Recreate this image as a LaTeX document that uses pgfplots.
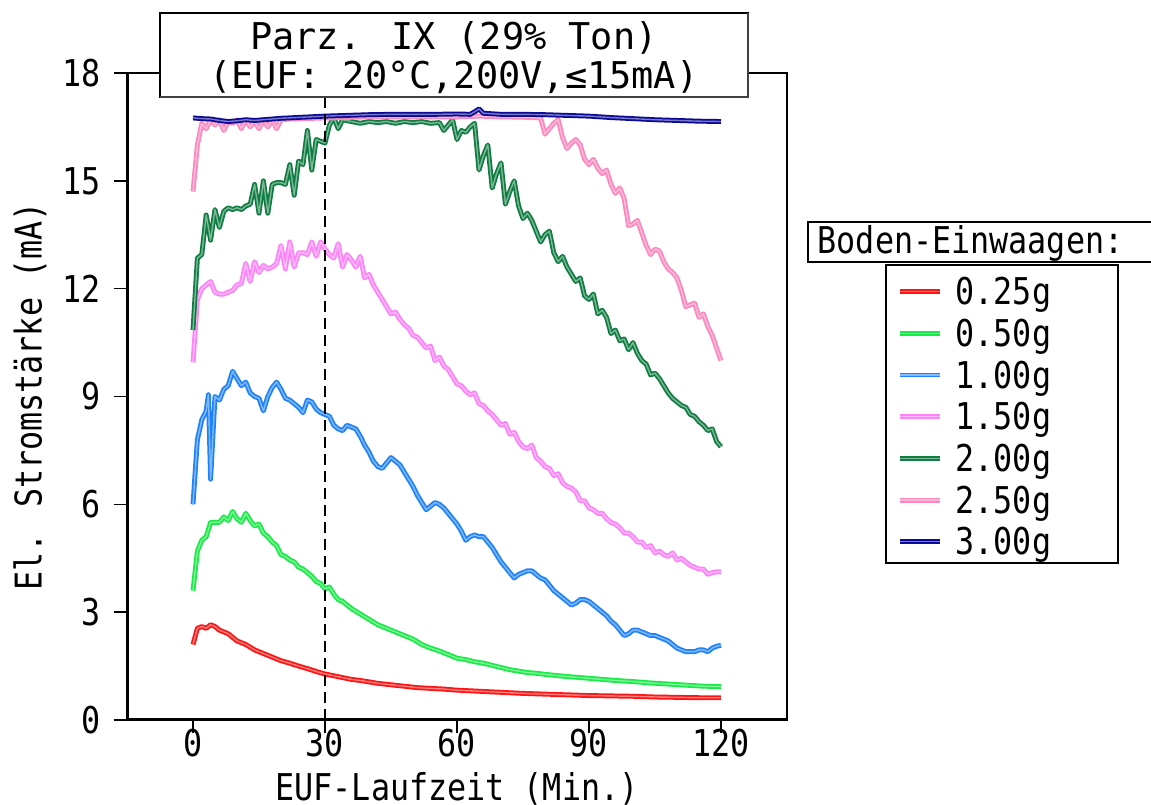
\documentclass[border=0pt]{standalone}
\usepackage{pgfplots}
\pgfplotsset{compat=1.18}
\usepackage{fontspec}
\setmainfont{DejaVu Sans Mono}[FakeStretch=0.86]
\newfontfamily\titlefont{DejaVu Sans Mono}
\definecolor{c1}{RGB}{255,20,20}
\definecolor{c2}{RGB}{25,235,70}
\definecolor{c3}{RGB}{30,130,255}
\definecolor{c4}{RGB}{255,130,250}
\definecolor{c5}{RGB}{15,125,65}
\definecolor{c6}{RGB}{255,135,190}
\definecolor{c7}{RGB}{10,10,150}
\newcommand{\fs}{\fontsize{10.5pt}{13pt}\selectfont}
\begin{document}
\fs
\begin{tikzpicture}
\path[use as bounding box] (0,0) rectangle (115.1mm,80.5mm);
\begin{axis}[
  at={(12.7mm,8.5mm)}, anchor=south west,
  scale only axis, width=66mm, height=64.7mm,
  xmin=-15, xmax=135, ymin=0, ymax=18,
  xtick={0,30,...,120}, ytick={0,3,...,18},
  tick pos=left, tick align=outside, major tick length=1.3mm,
  tick style={black, line width=0.4pt},
  axis line style={line width=0.45pt},
  /pgf/number format/assume math mode=true,
  tick label style={font=\fs},
  xticklabel style={yshift=1.7mm},
  xlabel={EUF-Laufzeit (Min.)},
  ylabel={El. Stromstärke (mA)},
  label style={font=\fs},
  xlabel style={at={(axis description cs:0.5,-0.106)}, anchor=center},
  ylabel style={at={(axis description cs:-0.147,0.5)}, anchor=center},
  every axis plot/.append style={line width=0.5pt, double distance=0.4pt, line join=round},
  legend style={at={(1.1667,0.6816)}, anchor=north west, draw=none, fill=none,
    inner sep=0pt, column sep=1.3mm, row sep=0pt, font=\fs,
    nodes={inner sep=0pt, text height=2.5mm, text depth=1.67mm}},
  legend cell align=left,
  legend image code/.code={\draw[#1] (0mm,0.9mm) -- (4mm,0.9mm);},
]
\addplot[draw=c1, double=c1!55!white] coordinates {(0,2.1)(1,2.55)(2,2.6)(3,2.55)(4,2.65)(5,2.6)(6,2.5)(7,2.45)(8,2.4)(9,2.3)(10,2.2)(12,2.1)(14,1.95)(16,1.85)(18,1.75)(20,1.65)(22,1.58)(24,1.5)(26,1.43)(28,1.35)(30,1.28)(32,1.23)(34,1.18)(36,1.13)(38,1.1)(40,1.06)(42,1.02)(45,0.98)(48,0.94)(51,0.9)(54,0.88)(57,0.86)(60,0.83)(65,0.8)(70,0.77)(75,0.74)(80,0.72)(85,0.7)(90,0.68)(95,0.67)(100,0.66)(105,0.64)(110,0.63)(115,0.62)(120,0.62)};
\addlegendentry{0.25g}
\addplot[draw=c2, double=c2!55!white] coordinates {(0,3.6)(1,4.7)(2,5.0)(3,5.1)(4,5.5)(5,5.5)(6,5.5)(7,5.65)(8,5.55)(9,5.8)(10,5.6)(11,5.5)(12,5.75)(13,5.55)(14,5.4)(15,5.45)(16,5.2)(17,5.1)(18,4.95)(19,4.85)(20,4.6)(21,4.55)(22,4.45)(23,4.4)(24,4.25)(25,4.2)(26,4.1)(27,4.0)(28,3.85)(29,3.8)(30,3.65)(31,3.7)(32,3.5)(33,3.35)(34,3.3)(35,3.2)(36,3.1)(38,2.95)(40,2.8)(42,2.65)(44,2.55)(46,2.45)(48,2.35)(50,2.25)(52,2.1)(54,2.0)(56,1.92)(58,1.82)(60,1.72)(62,1.68)(64,1.62)(66,1.58)(68,1.52)(70,1.46)(72,1.4)(74,1.36)(76,1.32)(78,1.3)(80,1.27)(84,1.22)(88,1.18)(92,1.14)(96,1.1)(100,1.07)(104,1.03)(108,1.0)(112,0.97)(116,0.94)(120,0.93)};
\addlegendentry{0.50g}
\addplot[draw=c3, double=c3!55!white] coordinates {(0,6.0)(1,7.8)(2,8.35)(3,8.6)(3.5,9.05)(4,6.7)(5,9.0)(6,8.9)(7,9.2)(8,9.3)(9,9.7)(10,9.5)(11,9.3)(12,9.4)(13,9.1)(14,9.0)(15,8.95)(16,8.6)(17,9.0)(18,9.25)(19,9.4)(20,9.2)(21,8.95)(22,8.9)(23,8.8)(24,8.7)(25,8.55)(26,8.9)(27,8.85)(28,8.65)(29,8.55)(30,8.5)(31,8.45)(32,8.2)(33,8.1)(34,8.05)(35,8.2)(36,8.15)(37,8.1)(38,7.9)(39,7.65)(40,7.45)(41,7.2)(42,7.05)(43,7.0)(44,7.15)(45,7.3)(46,7.2)(47,7.1)(48,6.9)(49,6.7)(50,6.5)(51,6.25)(52,6.05)(53,5.85)(54,5.95)(55,6.05)(56,6.0)(57,5.9)(58,5.75)(59,5.6)(60,5.45)(61,5.25)(62,5.0)(63,5.1)(64,5.15)(65,5.1)(66,5.1)(67,4.95)(68,4.8)(69,4.6)(70,4.4)(71,4.25)(72,4.1)(73,3.95)(74,4.05)(75,4.1)(76,4.15)(77,4.15)(78,4.05)(79,3.95)(80,3.9)(81,3.75)(82,3.6)(83,3.5)(84,3.4)(85,3.3)(86,3.2)(87,3.25)(88,3.35)(89,3.35)(90,3.3)(91,3.2)(92,3.1)(93,3.0)(94,2.9)(95,2.75)(96,2.65)(97,2.5)(98,2.35)(99,2.4)(100,2.5)(101,2.5)(102,2.45)(103,2.4)(104,2.35)(105,2.35)(106,2.3)(107,2.25)(108,2.2)(109,2.1)(110,2.0)(111,1.95)(112,1.9)(113,1.9)(114,1.9)(115,1.95)(116,1.95)(117,1.9)(118,2.0)(119,2.05)(120,2.08)};
\addlegendentry{1.00g}
\addplot[draw=c4, double=c4!55!white] coordinates {(0,9.95)(1,11.7)(2,12.0)(3,12.1)(4,12.2)(5,11.9)(6,11.85)(7,11.85)(8,11.9)(9,11.95)(10,12.1)(11,12.15)(12,12.7)(13,12.2)(14,12.75)(15,12.45)(16,12.65)(17,12.55)(18,12.6)(19,12.7)(20,13.2)(21,12.55)(22,13.3)(23,12.6)(24,13.0)(25,13.0)(26,12.95)(27,13.3)(28,12.9)(29,13.3)(30,13.1)(31,12.95)(32,12.85)(33,13.25)(34,12.6)(35,12.95)(36,12.8)(37,12.6)(38,12.9)(39,12.3)(40,12.4)(41,12.1)(42,11.9)(43,11.7)(44,11.5)(45,11.3)(46,11.35)(47,11.15)(48,11.0)(49,10.9)(50,10.7)(51,10.65)(52,10.5)(53,10.35)(54,10.4)(55,10.0)(56,10.1)(57,9.85)(58,9.75)(59,9.55)(60,9.35)(61,9.3)(62,9.15)(63,9.05)(64,9.1)(65,8.8)(66,8.75)(67,8.6)(68,8.5)(69,8.35)(70,8.2)(71,8.25)(72,7.95)(73,8.0)(74,7.75)(75,7.6)(76,7.55)(77,7.65)(78,7.3)(79,7.2)(80,7.05)(81,7.0)(82,6.8)(83,6.85)(84,6.6)(85,6.5)(86,6.45)(87,6.35)(88,6.1)(89,6.1)(90,5.9)(91,5.85)(92,5.75)(93,5.75)(94,5.6)(95,5.5)(96,5.45)(97,5.35)(98,5.2)(99,5.2)(100,5.1)(101,4.95)(102,4.95)(103,4.8)(104,4.85)(105,4.65)(106,4.7)(107,4.6)(108,4.55)(109,4.65)(110,4.45)(111,4.5)(112,4.4)(113,4.3)(114,4.25)(115,4.2)(116,4.2)(117,4.05)(118,4.1)(119,4.12)(120,4.12)};
\addlegendentry{1.50g}
\addplot[draw=c5, double=c5!55!white] coordinates {(0,10.85)(1,12.85)(2,12.95)(3,14.05)(4,13.35)(5,14.2)(6,13.7)(7,14.15)(8,14.25)(9,14.2)(10,14.25)(11,14.2)(12,14.3)(13,14.35)(14,14.9)(15,14.1)(16,15.0)(17,14.1)(18,14.9)(19,14.95)(20,14.95)(21,14.9)(22,15.45)(23,14.6)(24,15.55)(25,15.45)(26,16.4)(27,15.3)(28,16.15)(29,16.1)(30,16.05)(31,16.55)(32,16.75)(33,16.45)(34,16.7)(36,16.65)(38,16.6)(40,16.65)(42,16.62)(44,16.65)(46,16.6)(48,16.65)(50,16.62)(52,16.65)(54,16.6)(56,16.62)(57,16.4)(58,16.55)(59,16.7)(60,16.15)(61,16.4)(62,16.35)(63,16.5)(64,16.6)(65,15.3)(66,15.7)(67,16.0)(68,14.8)(69,15.2)(70,15.5)(71,14.35)(72,14.7)(73,15.0)(74,14.3)(75,13.95)(76,14.1)(77,13.9)(78,13.6)(79,13.3)(80,13.5)(81,13.6)(82,13.0)(83,12.75)(84,12.9)(85,12.6)(86,12.4)(87,12.2)(88,12.3)(89,11.8)(90,11.7)(91,11.85)(92,11.3)(93,11.4)(94,11.2)(95,10.75)(96,10.85)(97,10.55)(98,10.6)(99,10.3)(100,10.5)(101,10.2)(102,10.0)(103,9.9)(104,9.6)(105,9.65)(106,9.5)(107,9.3)(108,9.1)(109,8.95)(110,8.85)(111,8.75)(112,8.7)(113,8.5)(114,8.45)(115,8.3)(116,8.2)(117,8.05)(118,8.1)(119,7.75)(120,7.6)};
\addlegendentry{2.00g}
\addplot[draw=c6, double=c6!55!white] coordinates {(0,14.7)(1,16.0)(2,16.6)(3,16.45)(4,16.7)(5,16.55)(6,16.7)(7,16.4)(8,16.65)(9,16.6)(10,16.7)(11,16.45)(12,16.7)(13,16.5)(14,16.65)(15,16.45)(16,16.7)(17,16.5)(18,16.7)(19,16.45)(20,16.7)(22,16.72)(25,16.73)(30,16.75)(40,16.78)(50,16.78)(60,16.78)(65,16.8)(70,16.78)(75,16.77)(79,16.75)(80,16.3)(81,16.45)(82,16.6)(83,16.7)(84,16.2)(85,15.9)(86,16.05)(87,16.15)(88,16.0)(89,15.6)(90,15.45)(91,15.6)(92,15.35)(93,15.2)(94,15.3)(95,14.9)(96,14.65)(97,14.8)(98,14.5)(99,13.75)(100,13.8)(101,13.9)(102,13.55)(103,13.2)(104,12.95)(105,13.1)(106,13.05)(107,12.75)(108,12.55)(109,12.45)(110,12.3)(111,11.95)(112,11.5)(113,11.55)(114,11.6)(115,11.2)(116,11.3)(117,10.95)(118,10.7)(119,10.35)(120,10.0)};
\addlegendentry{2.50g}
\addplot[draw=c7, double=c7!55!white] coordinates {(0,16.75)(2,16.73)(4,16.72)(6,16.68)(8,16.65)(10,16.67)(12,16.7)(14,16.68)(16,16.7)(18,16.72)(20,16.74)(25,16.77)(30,16.8)(35,16.82)(40,16.84)(45,16.85)(50,16.85)(55,16.85)(60,16.86)(63,16.85)(64,16.92)(65,17.0)(66,16.88)(70,16.85)(75,16.85)(80,16.84)(85,16.82)(90,16.8)(95,16.76)(100,16.73)(105,16.7)(110,16.68)(115,16.66)(120,16.65)};
\addlegendentry{3.00g}
\draw[line width=0.4pt, dash pattern=on 1.1mm off 0.6mm] (axis cs:30,0) -- (axis cs:30,18);
\draw[line width=0.9pt] (rel axis cs:0,1) -- (rel axis cs:0,0) -- (rel axis cs:1,0);
\end{axis}
% title box
\draw[line width=0.5pt, fill=white] (16.0mm,70.8mm) rectangle (74.8mm,79.2mm);
\draw[line width=0.8pt, black!75] (16.0mm,70.8mm) -- (74.8mm,70.8mm) -- (74.8mm,79.2mm);
\node[font=\titlefont\fs, anchor=base, inner sep=0pt] at (45.4mm,75.5mm) {Parz. IX (29\% Ton)};
\node[font=\titlefont\fs, anchor=base, inner sep=0pt] at (45.4mm,71.6mm) {(EUF: 20°C,200V,≤15mA)};
% legend title box
\draw[line width=0.5pt] (117mm,54.3mm) -- (80.8mm,54.3mm) -- (80.8mm,58.3mm) -- (117mm,58.3mm);
\node[anchor=base west, inner sep=0pt] at (81.7mm,55.1mm) {Boden-Einwaagen:};
% legend frame
\draw[line width=0.5pt] (88.6mm,24.2mm) rectangle (111.8mm,54.0mm);
\end{tikzpicture}
\end{document}
